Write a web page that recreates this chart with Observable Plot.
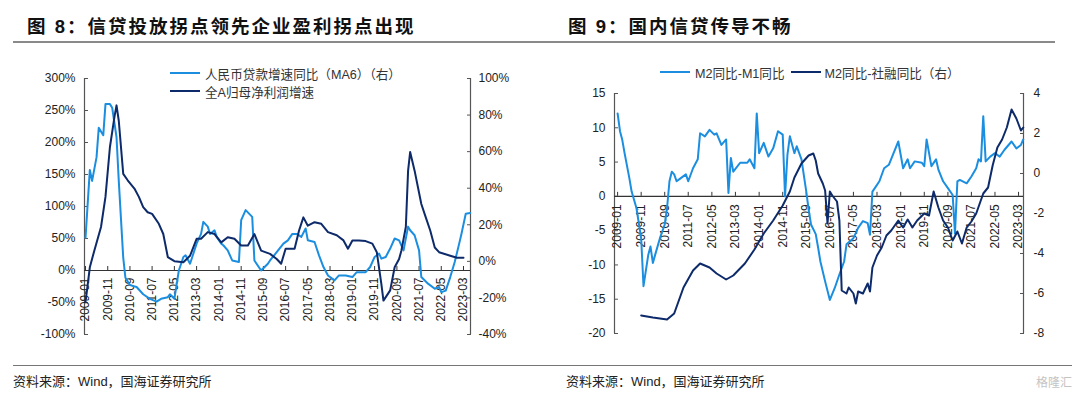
<!DOCTYPE html>
<html>
<head>
<meta charset="utf-8">
<script src="https://cdn.jsdelivr.net/npm/d3@7"></script>
<script src="https://cdn.jsdelivr.net/npm/@observablehq/plot@0.6"></script>
<style>
  html, body { margin: 0; padding: 0; background: #fff; }
  #root { position: relative; width: 1080px; height: 397px; overflow: hidden; font-family: "Liberation Sans", "Noto Sans CJK SC", Arial, sans-serif; }
  .abs { position: absolute; }
  .title { font-family: "Liberation Sans", "Noto Sans CJK SC", sans-serif; font-weight: 700; font-size: 18.5px; letter-spacing: 2px; color: #111; line-height: 20px; white-space: nowrap; }
  .hr { position: absolute; height: 0; border-top: 2px solid #8a8a8a; }
  .leg { position: absolute; display: flex; align-items: center; height: 16px; font-size: 12.6px; color: #333; white-space: nowrap; font-family: "Liberation Sans", "Noto Sans CJK SC", sans-serif; }
  .sw { display: inline-block; width: 30px; height: 2.5px; margin-right: 5px; }
  .src { position: absolute; font-size: 13px; color: #222; white-space: nowrap; line-height: 16px; font-family: "Liberation Sans", "Noto Sans CJK SC", sans-serif; }
  .panel { position: absolute; top: 60px; }
</style>
</head>
<body>
<div id="root">
  <div class="abs title" style="left:27px;top:17px;">图 8：信贷投放拐点领先企业盈利拐点出现</div>
  <div class="abs title" style="left:568px;top:17px;">图 9：国内信贷传导不畅</div>
  <div class="hr" style="left:13px;width:1042px;top:41px;"></div>

  <div class="leg" style="left:170px;top:65px;"><span class="sw" style="background:#1b8ee0"></span><span>人民币贷款增速同比（MA6）（右）</span></div>
  <div class="leg" style="left:170px;top:83px;"><span class="sw" style="background:#0d2a6a"></span><span>全A归母净利润增速</span></div>
  <div class="leg" style="left:660px;top:64px;"><span class="sw" style="background:#1b8ee0"></span><span>M2同比-M1同比</span><span class="sw" style="background:#0d2a6a;margin-left:6px;margin-right:4px;"></span><span>M2同比-社融同比（右）</span></div>

  <div id="p1" class="panel" style="left:0px;"></div>
  <div id="p2" class="panel" style="left:540px;"></div>

  <div class="hr" style="left:13px;width:1059px;top:365px;border-top:1.5px solid #777;"></div>
  <div class="src" style="left:13px;top:374px;">资料来源：Wind，国海证券研究所</div>
  <div class="src" style="left:566px;top:374px;">资料来源：Wind，国海证券研究所</div>
  <div class="src" style="left:1036px;top:375px;color:#c4c4c4;font-size:12px;">格隆汇</div>
</div>

<script>
// ---------- data ----------
const xTickLabels = ["2009-01","2009-11","2010-09","2011-07","2012-05","2013-03","2014-01","2014-11","2015-09","2016-07","2017-05","2018-03","2019-01","2019-11","2020-09","2021-07","2022-05","2023-03"];

// Figure 8: loan growth yoy (MA6), right axis (%)
const loanDates = ["2009-01","2009-03","2009-04","2009-06","2009-07","2009-09","2009-10","2009-12","2010-01","2010-03","2010-04","2010-06","2010-07","2010-09","2010-12","2011-03","2011-06","2011-09","2011-11","2012-02","2012-03","2012-05","2012-07","2012-09","2012-10","2012-12","2013-01","2013-03","2013-05","2013-06","2013-08","2013-09","2013-11","2013-12","2014-02","2014-03","2014-05","2014-07","2014-10","2014-11","2015-01","2015-04","2015-05","2015-08","2015-11","2015-12","2016-03","2016-06","2016-08","2016-10","2016-12","2017-02","2017-04","2017-05","2017-08","2017-10","2017-12","2018-02","2018-05","2018-07","2018-10","2019-01","2019-03","2019-07","2019-09","2019-11","2020-01","2020-02","2020-04","2020-06","2020-08","2020-10","2020-12","2021-02","2021-03","2021-05","2021-07","2021-08","2021-11","2022-02","2022-04","2022-05","2022-07","2022-09","2022-11","2023-01","2023-02","2023-04","2023-06"];
const loanValues = [13,50,44,57,73,69,86,86,84,68,44,2,-9,-13,-14,-18,-20.5,-22,-20.5,-19.6,-18,-20.5,-5,2.4,3.3,-1.3,2.4,9.7,15,21.6,19,15,17,13.4,9.7,8.8,6,0.5,-0.4,22.5,28,24.3,0.5,-5,-1.3,0.5,5,9.7,11.5,15,15,13.4,18,11.5,10.6,3.3,-3.1,-7.7,-10.4,-7.7,-7.7,-8.6,-5.9,-5.9,-3.1,2.4,4.2,1.5,2.4,7,12.5,11.5,6,19,17,14.3,6,-8.6,-12.2,-15,-14,-16.8,-16,-8.6,-0.4,9.7,15,26,26.5];

// Figure 8: all-A net profit growth, left axis (%)
const profitDates = ["2009-01","2009-03","2009-05","2009-08","2009-10","2009-12","2010-02","2010-03","2010-04","2010-06","2010-08","2010-11","2011-01","2011-03","2011-05","2011-07","2011-10","2011-12","2012-02","2012-05","2012-09","2012-12","2013-03","2013-05","2013-08","2013-11","2014-02","2014-05","2014-08","2014-11","2015-02","2015-05","2015-08","2015-12","2016-03","2016-05","2016-07","2016-11","2017-01","2017-03","2017-05","2017-08","2017-11","2018-02","2018-06","2018-09","2018-11","2019-01","2019-04","2019-07","2019-10","2019-12","2020-02","2020-03","2020-06","2020-08","2020-10","2020-11","2021-01","2021-02","2021-03","2021-05","2021-08","2021-10","2021-12","2022-02","2022-04","2022-09","2022-12","2023-03"];
const profitValues = [-49.5,5,31,68,115,193,240,258,234,151,141,128,115,99,91,88.5,73,57,21,14.6,13,23,49.5,49.5,60,57,44,52,49.5,39,39,57,31,26,18,10.5,34,34,62.5,83,70,75.5,73,60,55,47,34,47,47,46,42,28.6,-21,-47,-31,5,18,31,68,156,185,156,104,83,62.5,36,28.6,23,19.8,19.8];

// Figure 9: M2 yoy - M1 yoy, left axis
const m2m1Dates = ["2009-01","2009-02","2009-03","2009-04","2009-06","2009-07","2009-09","2009-11","2009-12","2010-02","2010-03","2010-04","2010-05","2010-07","2010-09","2010-10","2010-11","2010-12","2011-01","2011-02","2011-04","2011-06","2011-07","2011-09","2011-11","2011-12","2012-02","2012-04","2012-06","2012-07","2012-09","2012-11","2012-12","2013-01","2013-02","2013-05","2013-08","2013-09","2013-11","2013-12","2014-01","2014-03","2014-05","2014-07","2014-09","2014-11","2014-12","2015-01","2015-02","2015-04","2015-05","2015-07","2015-09","2015-10","2015-11","2016-01","2016-02","2016-03","2016-05","2016-07","2016-09","2016-11","2017-01","2017-02","2017-05","2017-07","2017-09","2017-11","2017-12","2018-01","2018-02","2018-04","2018-06","2018-08","2018-10","2018-12","2019-02","2019-04","2019-05","2019-07","2019-10","2019-11","2019-12","2020-02","2020-04","2020-05","2020-07","2020-09","2020-11","2020-12","2021-01","2021-02","2021-05","2021-07","2021-09","2021-10","2021-11","2021-12","2022-01","2022-03","2022-05","2022-07","2022-09","2022-12","2023-02","2023-04","2023-05"];
const m2m1Values = [12.1,9.5,8.3,6.3,2.7,0.7,-1.7,-6.1,-13.1,-8.5,-7.3,-9.7,-8.5,-6.1,-4.1,-1.7,2.2,3.6,3.2,2.2,2.7,3.2,2.2,4.1,5.4,9.2,8.75,9.7,9.0,9.2,7.5,8.3,0.5,5.6,3.6,4.9,4.9,5.4,4.1,12.1,6.3,7.8,5.8,7.0,9.5,9.0,0,6.1,8.75,6.3,7.3,5.4,0.7,-1.9,-4.1,-5.5,-7.5,-9.5,-12.4,-15.1,-13.4,-11.4,-9.5,-7.0,-6.1,-4.6,-3.6,-3.9,-5.6,0.7,1.2,2.2,4.1,4.6,6.3,8.0,4.1,5.4,4.1,5.1,4.9,4.4,8.3,4.4,5.4,3.9,2.2,1.2,0.2,-5.4,2.2,2.4,1.9,2.9,4.1,5.4,5.1,11.7,5.1,5.8,6.3,5.8,6.8,8.0,7.0,7.5,8.3];

// Figure 9: M2 yoy - social financing yoy, right axis
const m2sfDates = ["2009-11","2010-04","2010-10","2011-01","2011-05","2011-09","2011-12","2012-04","2012-07","2012-11","2013-02","2013-07","2013-11","2014-03","2014-07","2014-11","2015-02","2015-04","2015-07","2015-10","2015-12","2016-01","2016-02","2016-04","2016-05","2016-06","2016-07","2016-08","2016-10","2016-11","2016-12","2017-02","2017-03","2017-05","2017-06","2017-07","2017-09","2017-11","2017-12","2018-01","2018-03","2018-05","2018-07","2018-09","2018-12","2019-02","2019-04","2019-06","2019-08","2019-11","2020-01","2020-03","2020-05","2020-07","2020-09","2020-11","2021-01","2021-03","2021-05","2021-07","2021-09","2021-12","2022-02","2022-04","2022-06","2022-08","2022-10","2022-12","2023-02","2023-04","2023-05"];
const m2sfValues = [-7.1,-7.2,-7.3,-7.0,-5.7,-4.85,-4.5,-4.7,-5.0,-5.3,-5.1,-4.5,-3.8,-3.0,-2.35,-1.6,-0.9,-0.2,0.5,0.9,1.0,0.65,0,-0.5,-0.85,-2.5,-0.9,-1.1,-1.4,-2.35,-5.85,-6.0,-5.7,-6.0,-6.5,-5.9,-6.0,-5.5,-5.9,-4.7,-4.1,-3.7,-3.1,-2.85,-2.35,-2.7,-2.3,-2.7,-2.35,-2.0,-2.1,-0.9,-1.7,-2.35,-2.7,-3.35,-2.9,-3.5,-2.7,-2.4,-2.0,-1.0,-0.7,0.4,1.3,1.7,2.3,3.2,2.75,2.15,2.3];

// axis ticks
const p1LeftTicks = [300, 250, 200, 150, 100, 50, 0, -50, -100];
const p1RightTicks = [100, 80, 60, 40, 20, 0, -20, -40];
const p2LeftTicks = [15, 10, 5, 0, -5, -10, -15, -20];
const p2RightTicks = [4, 2, 0, -2, -4, -6, -8];

// ---------- styling ----------
const LIGHT = "#1b8ee0";
const DARK = "#0d2a6a";
const AXIS = "#555";

const parse = d3.utcParse("%Y-%m");
const zip = (ds, vs, f) => ds.slice(0, Math.min(ds.length, vs.length)).map((d, i) => ({date: parse(d), v: f(vs[i])}));
const xTicks = xTickLabels.map(parse);

// dual-axis mappings (right value -> left scale units)
const p1L = [-100, 300], p1R = [-40, 100];
const toL1 = r => p1L[0] + (r - p1R[0]) * (p1L[1] - p1L[0]) / (p1R[1] - p1R[0]);
const fromL1 = l => p1R[0] + (l - p1L[0]) * (p1R[1] - p1R[0]) / (p1L[1] - p1L[0]);
const p2L = [-20, 15], p2R = [-8, 4];
const toL2 = r => p2L[0] + (r - p2R[0]) * (p2L[1] - p2L[0]) / (p2R[1] - p2R[0]);
const fromL2 = l => p2R[0] + (l - p2L[0]) * (p2R[1] - p2R[0]) / (p2L[1] - p2L[0]);

const fmtPct = v => `${Math.round(v)}%`;
const fmtNum = v => `${Math.round(v)}`;

function panel({width, height, mL, mR, mT, mB, xDomain, yDomain, leftTicks, leftFmt, leftPad, rightTicks, rightFmt, rightPad, lightData, darkData, tickUnits, labelDy}) {
  return Plot.plot({
    width, height,
    marginLeft: mL, marginRight: mR, marginTop: mT, marginBottom: mB,
    x: {type: "utc", domain: xDomain, axis: null, label: null},
    y: {domain: yDomain, axis: null, label: null},
    style: {fontFamily: "Liberation Sans, Arial, sans-serif", fontSize: "12px", background: "transparent", overflow: "visible"},
    marks: [
      Plot.ruleX(xDomain, {x: d => d, stroke: AXIS, strokeWidth: 1.2}),
      Plot.axisY(leftTicks, {anchor: "left", label: null, tickSize: -4, tickPadding: leftPad, tickFormat: leftFmt, color: "#222", stroke: AXIS, fontSize: 12}),
      Plot.axisY(rightTicks, {anchor: "right", label: null, tickSize: -4, tickPadding: rightPad, tickFormat: rightFmt, color: "#222", stroke: AXIS, fontSize: 12}),
      Plot.text(xTicks, {x: d => d, y: 0, text: d => d3.utcFormat("%Y-%m")(d), rotate: -90, textAnchor: "end", lineAnchor: "middle", dy: labelDy, fill: "#222", fontSize: 12}),
      Plot.ruleY([0], {stroke: "#333", strokeWidth: 1.2}),
      Plot.ruleX(xTicks, {x: d => d, y1: 0, y2: tickUnits, stroke: "#333", strokeWidth: 1}),
      Plot.line(lightData, {x: "date", y: "v", stroke: LIGHT, strokeWidth: 2, curve: "linear"}),
      Plot.line(darkData, {x: "date", y: "v", stroke: DARK, strokeWidth: 2, curve: "linear"})
    ]
  });
}

// Panel 1
const p1 = panel({
  width: 540, height: 290, mL: 84, mR: 70, mT: 18, mB: 16,
  xDomain: [d3.utcDay.offset(parse("2009-01"), -14), d3.utcDay.offset(parse("2023-06"), 4)],
  yDomain: p1L,
  leftTicks: p1LeftTicks, leftFmt: fmtPct, leftPad: 13,
  rightTicks: p1RightTicks.map(toL1), rightFmt: l => fmtPct(fromL1(l)), rightPad: 12,
  lightData: zip(loanDates, loanValues, toL1),
  darkData: zip(profitDates, profitValues, v => v),
  tickUnits: 4 / (256 / 400),
  labelDy: 7
});
document.getElementById("p1").appendChild(p1);

// Panel 2
const p2 = panel({
  width: 540, height: 290, mL: 74, mR: 57, mT: 33, mB: 17,
  xDomain: [d3.utcDay.offset(parse("2009-01"), -40), d3.utcDay.offset(parse("2023-05"), 3)],
  yDomain: p2L,
  leftTicks: p2LeftTicks, leftFmt: fmtNum, leftPad: 13,
  rightTicks: p2RightTicks.map(toL2), rightFmt: l => fmtNum(fromL2(l)), rightPad: 14,
  lightData: zip(m2m1Dates, m2m1Values, v => v),
  darkData: zip(m2sfDates, m2sfValues, toL2),
  tickUnits: 4 / (240 / 35),
  labelDy: 8
});
document.getElementById("p2").appendChild(p2);
</script>
</body>
</html>
